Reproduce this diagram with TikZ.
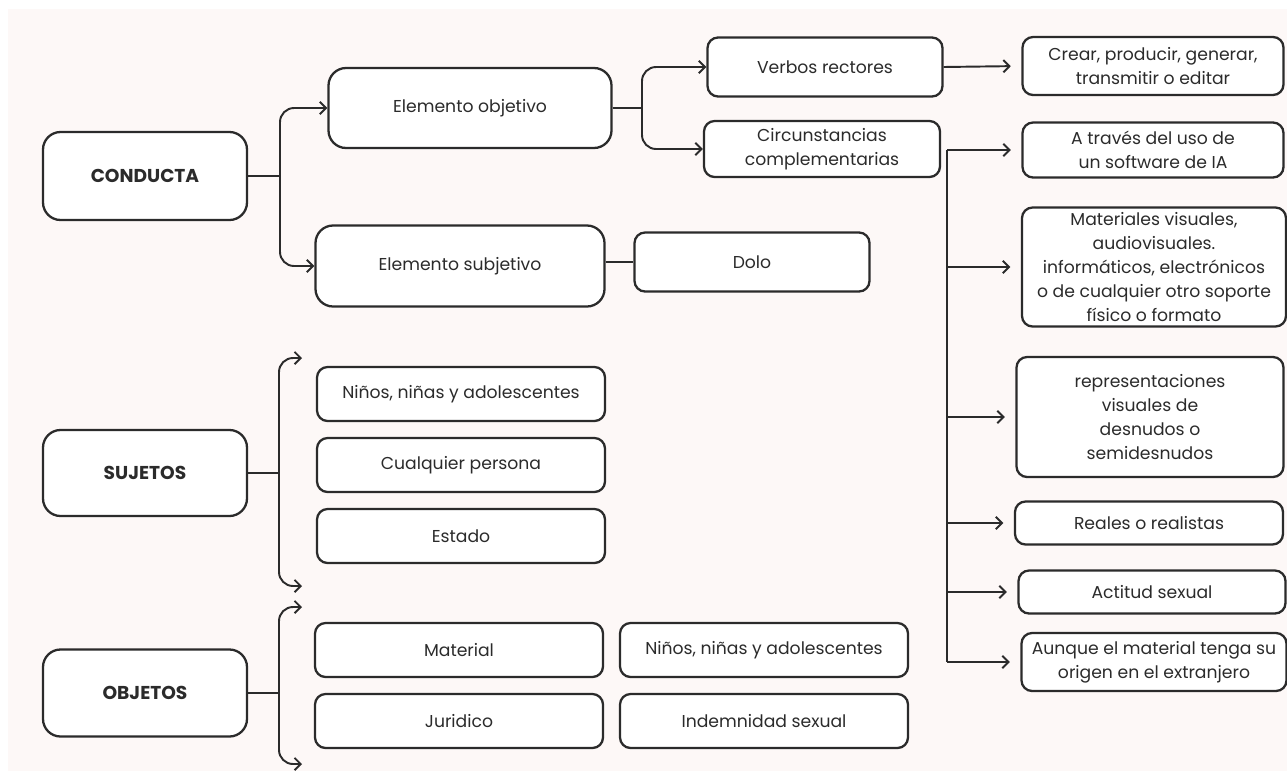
\documentclass[tikz,border=0pt]{standalone}
\usepackage{fontspec}
\setmainfont{Poppins}
\usetikzlibrary{arrows.meta}
\definecolor{bgpink}{HTML}{FDF8F7}
\definecolor{ink}{HTML}{2B2B2B}

\begin{document}
\begin{tikzpicture}[x=0.02cm, y=-0.02cm,
  sz/.style 2 args={minimum width=#1*0.02cm, minimum height=#2*0.02cm},
  box/.style={draw=ink, fill=white, line width=1.3pt, rounded corners=6pt,
    align=center, text=ink, inner sep=0pt, font=\fontsize{9.8}{13.6}\selectfont},
  bigbox/.style={box, rounded corners=10pt},
  head/.style={bigbox, font=\fontsize{10.6}{13.6}\selectfont\bfseries},
  link/.style={draw=ink, line width=1.1pt},
  arr/.style={link, -{Straight Barb[length=3.5pt,width=7pt]}},
]
\useasboundingbox (0,0) rectangle (1287,771);
\fill[bgpink] (8,9) rectangle (1287,771);

% Draw main headings
\node[head, sz={204}{88}] (conducta) at (145,176) {CONDUCTA};
\node[head, sz={204}{86}] (sujetos) at (145,473) {SUJETOS};
\node[head, sz={204}{87}] (objetos) at (145,693) {OBJETOS};

% Draw conducta branch
\node[bigbox, sz={283}{80}] (elobj) at (470,108) {Elemento objetivo};
\node[bigbox, sz={289}{81}] (elsub) at (460,266) {Elemento subjetivo};
\node[box, sz={235}{59}] (dolo) at (752,262) {Dolo};
\node[box, sz={235}{59}] (verbos) at (825,67) {Verbos rectores};
\node[box, sz={236}{56}] (circ) at (822,149) {Circunstancias\\complementarias};

% Draw right column
\node[box, sz={261}{58}] (crear) at (1153,66) {Crear, producir, generar,\\transmitir o editar};
\node[box, sz={261}{55}] (atraves) at (1153,150) {A través del uso de\\un software de IA};
\node[box, sz={264}{119}] (mater) at (1154,267) {Materiales visuales,\\audiovisuales.\\informáticos, electrónicos\\o de cualquier otro soporte\\físico o formato};
\node[box, sz={267}{120}] (repre) at (1150,417) {representaciones\\visuales de\\desnudos o\\semidesnudos};
\node[box, sz={268}{43}] (reales) at (1149,523) {Reales o realistas};
\node[box, sz={267}{43}] (actitud) at (1152,592) {Actitud sexual};
\node[box, sz={265}{58}] (aunque) at (1154,662) {Aunque el material tenga su\\origen en el extranjero};

% Draw sujetos and objetos boxes
\node[box, sz={288}{54}] (ninosa) at (461,394) {Niños, niñas y adolescentes};
\node[box, sz={288}{54}] (cualq) at (461,465) {Cualquier persona};
\node[box, sz={288}{54}] (estado) at (461,536) {Estado};
\node[box, sz={288}{54}] (material) at (459,650) {Material};
\node[box, sz={288}{54}] (juridico) at (459,721) {Juridico};
\node[box, sz={288}{54}] (ninosb) at (764,650) {Niños, niñas y adolescentes};
\node[box, sz={288}{54}] (indemn) at (764,721) {Indemnidad sexual};

% Connectors
\draw[link] (conducta.east) -- (280,176) coordinate (cj);
\draw[arr, rounded corners=8pt] (cj) |- (elobj.west);
\draw[arr, rounded corners=8pt] (cj) |- (elsub.west);

\draw[link] (sujetos.east) -- (279,473) coordinate (sj);
\coordinate (s1) at (302,358);
\coordinate (s2) at (302,586);
\draw[arr, rounded corners=8pt] (sj) |- (s1);
\draw[arr, rounded corners=8pt] (sj) |- (s2);

\draw[link] (objetos.east) -- (279,693) coordinate (oj);
\coordinate (o1) at (302,607);
\coordinate (o2) at (302,764);
\draw[arr, rounded corners=8pt] (oj) |- (o1);
\draw[arr, rounded corners=8pt] (oj) |- (o2);

\draw[link] (elobj.east) -- (642,108) coordinate (ej);
\draw[arr, rounded corners=8pt] (ej) |- (verbos.west);
\draw[arr, rounded corners=8pt] (ej) |- (circ.west);

\draw[link] (elsub.east |- dolo.west) -- (dolo.west);
\draw[arr, shorten >=6pt] (verbos.east) -- (crear.west);

% Trunk to the right column
\coordinate (t0) at (947,150);
\draw[link] (t0) -- (t0 |- aunque.west);
\foreach \n in {atraves,mater,repre,reales,actitud,aunque}
  \draw[arr, shorten >=6pt] (t0 |- \n.west) -- (\n.west);
\end{tikzpicture}
\end{document}
